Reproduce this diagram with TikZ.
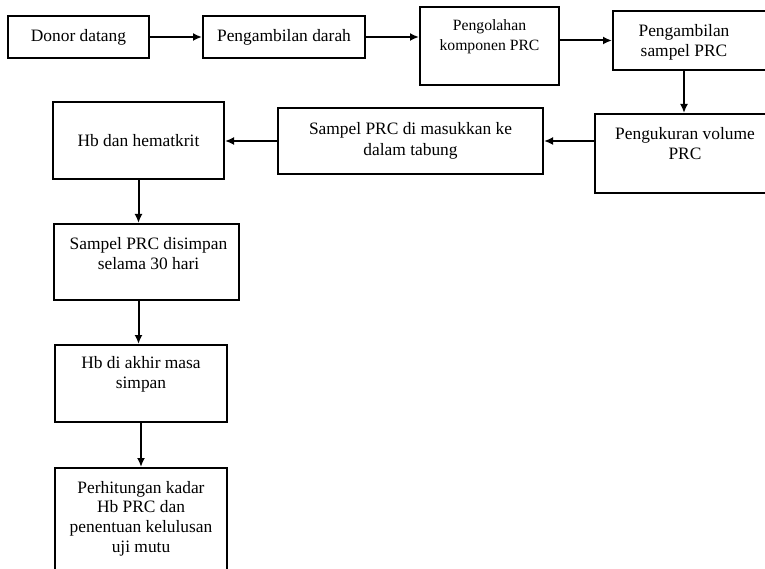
\documentclass[tikz,border=0pt]{standalone}
\usepackage{fontspec}
\setmainfont{Liberation Serif}
\usetikzlibrary{arrows.meta}

\begin{document}
\begin{tikzpicture}[x=1pt, y=-1pt,
					stepbox/.style={rectangle,
					line width=2pt,
					draw=black,
					inner sep=0pt,
					align=center,
					anchor=north west,
					font=\fontsize{17.4}{20.5}\selectfont},
					toptext/.style={anchor=north,
					inner sep=0pt,
					align=center,
					font=\fontsize{17.4}{20.5}\selectfont},
					flow/.style={-{Latex[length=9pt,width=8pt]},
					line width=2pt,
					black}
					]

% picture size
\useasboundingbox (0,0) rectangle (765,569);

%first row
\node[stepbox, minimum width=141pt, minimum height=42pt] (donor) at (7,15) {Donor datang};
\node[stepbox, minimum width=162pt, minimum height=42pt] (ambil) at (202,15) {Pengambilan darah};
\node[stepbox, minimum width=139pt, minimum height=78pt,
	label={[toptext, yshift=-13pt, font=\fontsize{15.7}{20}\selectfont]north:{Pengolahan\\komponen PRC}}] (olah) at (419,6) {};
\node[stepbox, minimum width=168pt, minimum height=59pt,
	label={[toptext, xshift=-13pt, yshift=-14pt]north:{Pengambilan\\sampel PRC}}] (sampel) at (612,10) {};

%second row
\node[stepbox, minimum width=186pt, minimum height=79pt,
	label={[toptext, xshift=-3pt, yshift=-14pt]north:{Pengukuran volume\\PRC}}] (ukur) at (594,113) {};
\node[stepbox, minimum width=265pt, minimum height=66pt] (tabung) at (277,107) {Sampel PRC di masukkan ke\\dalam tabung};
\node[stepbox, minimum width=171pt, minimum height=77pt] (hb) at (52,101) {Hb dan hematkrit};

%left column
\node[stepbox, minimum width=185pt, minimum height=76pt,
	label={[toptext, xshift=2pt, yshift=-14pt]north:{Sampel PRC disimpan\\selama 30 hari}}] (simpan) at (53,223) {};
\node[stepbox, minimum width=172pt, minimum height=77pt,
	label={[toptext, yshift=-12pt]north:{Hb di akhir masa\\simpan}}] (akhir) at (54,344) {};
\node[stepbox, minimum width=172pt, minimum height=120pt,
	label={[toptext, yshift=-14pt, font=\fontsize{17.4}{19.7}\selectfont]north:{Perhitungan kadar\\Hb PRC dan\\penentuan kelulusan\\uji mutu}}] (hitung) at (54,467) {};

%paths
\draw[flow] (donor.east) -- (ambil.west);
\draw[flow] (ambil.east) -- (ambil.east -| olah.west);
\draw[flow] (olah.east |- sampel.west) -- (sampel.west);
\draw[flow] ([xshift=-13pt]sampel.south) -- ([xshift=-13pt]sampel.south |- ukur.north);
\draw[flow] (ukur.west |- tabung.east) -- (tabung.east);
\draw[flow] (tabung.west) -- (tabung.west -| hb.east);
\draw[flow] (hb.south) -- (hb.south |- simpan.north);
\draw[flow] (hb.south |- simpan.south) -- (hb.south |- akhir.north);
\draw[flow] (akhir.south) -- (hitung.north);
\end{tikzpicture}
\end{document}
